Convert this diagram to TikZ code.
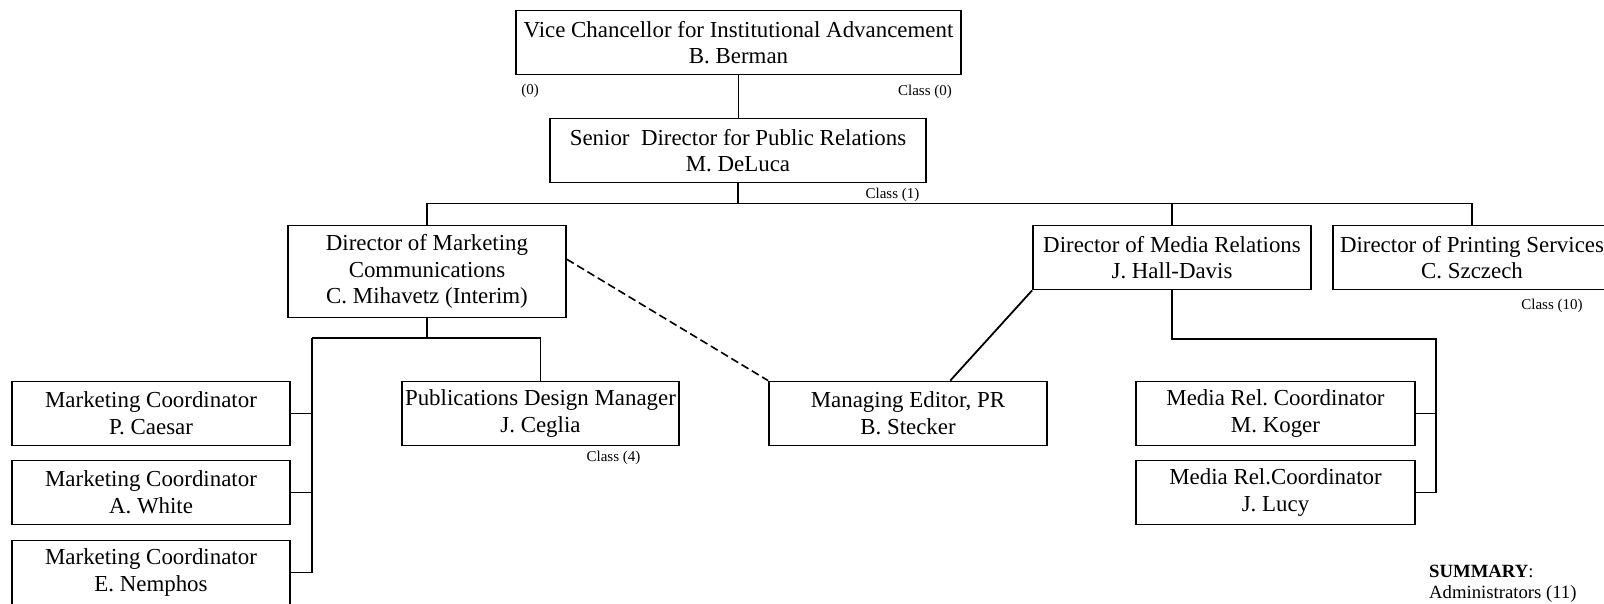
\documentclass[tikz,border=0pt]{standalone}
\usepackage{fontspec}
\setmainfont{Liberation Serif}
\usetikzlibrary{calc}
\begin{document}
\frenchspacing
\tikzset{
  box/.style={draw, line width=1.8pt, inner sep=0pt, align=center,
    minimum width=278pt, minimum height=64pt,
    font=\fontsize{22.9}{26.8}\selectfont},
  conn/.style={line width=1.8pt},
  dotconn/.style={line width=1.6pt, dash pattern=on 8pt off 4pt},
  small/.style={inner sep=0pt, font=\fontsize{15}{18}\selectfont},
}
\begin{tikzpicture}[x=1pt,y=-1pt]
\clip (0,0) rectangle (1604,603);
\fill[white] (0,0) rectangle (1604,603);

% nodes
\node[box, minimum width=445pt] (vc) at (738.5,42.5) {Vice Chancellor for Institutional Advancement\\B. Berman};
\node[box, minimum width=376pt] (sd) at (738,150.5) {Senior\ \ Director for Public Relations\\M. DeLuca};
\node[box, minimum height=92pt] (dmc) at (427,271.5) {Director of Marketing\\Communications\\C. Mihavetz (Interim)};
\node[box] (dmr) at (1172,257.5) {Director of Media Relations\\J. Hall-Davis};
\node[box] (dps) at (1472,257.5) {Director of Printing Services\\C. Szczech};
\node[box] (mc1) at (151,413.5) {Marketing Coordinator\\P. Caesar};
\node[box] (mc2) at (151,492.5) {Marketing Coordinator\\A. White};
\node[box] (mc3) at (151,572.5) {Marketing Coordinator\\E. Nemphos};
\node[box, minimum width=277pt] (pdm) at (540.5,413.5) {Publications Design Manager\\J. Ceglia};
\node[box] (me) at (908,413.5) {Managing Editor, PR\\B. Stecker};
\node[box, minimum width=279pt] (mk) at (1275.5,413.5) {Media Rel. Coordinator\\M. Koger};
\node[box, minimum width=279pt] (jl) at (1275.5,492.5) {Media Rel.Coordinator\\J. Lucy};

% small labels
\node[small] (l0) at (530,90.5) {(0)};
\node[small] (c0) at (925,92) {Class (0)};
\node[small] (c1) at (892.5,195) {Class (1)};
\node[small] (c4) at (613.5,457.5) {Class (4)};
\node[small] (c10) at (1552,306) {Class (10)};
\node[inner sep=0pt, anchor=west, align=left, font=\fontsize{18.7}{21}\selectfont] (sum) at (1429,584) {\textbf{SUMMARY}:\\Administrators (11)};

% connectors
\coordinate (bus) at (738,203.5);
\draw[conn] (vc.south) -- (vc.south |- sd.north);
\draw[conn] (sd.south) -- (sd.south |- bus);
\draw[conn] (dmc.north) |- (bus) -| (dps.north);
\draw[conn] (dmr.north) -- (dmr.north |- bus);

\coordinate (mj) at (427,338);
\coordinate (ml) at (312,338);
\draw[conn] (dmc.south) -- (mj);
\draw[conn] (ml) -| (pdm.north);
\draw[conn] (ml) -- (ml |- mc3.east) -- (mc3.east);
\draw[conn] (mc1.east) -- (mc1.east -| ml);
\draw[conn] (mc2.east) -- (mc2.east -| ml);

\coordinate (mr) at (1436,339);
\draw[conn] (dmr.south) |- (mr) -- (mr |- jl.east) -- (jl.east);
\draw[conn] (mk.east) -- (mk.east -| mr);

\draw[dotconn] ($(dmc.north east)!0.37!(dmc.south east)$) -- (me.north west);
\draw[conn] (dmr.south west) -- ($(me.north west)!0.651!(me.north east)$);
\end{tikzpicture}
\end{document}
